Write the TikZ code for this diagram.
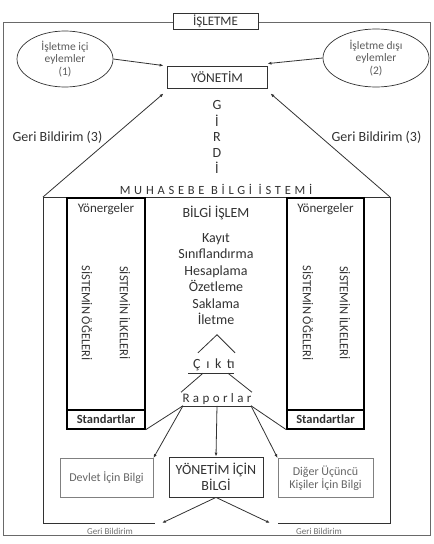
\documentclass[tikz,border=0pt]{standalone}
\usepackage{fontspec}
\setmainfont{Carlito}
\newfontfamily\spacedfont[LetterSpace=30]{Carlito}
\newfontfamily\widefont[LetterSpace=40]{Carlito}
\newfontfamily\midfont[LetterSpace=26]{Carlito}
\usetikzlibrary{arrows.meta,positioning,shapes.geometric,calc}
\definecolor{inkgray}{RGB}{50,50,50}
\definecolor{linegray}{RGB}{105,105,105}
\newcommand{\fsz}[1]{\fontsize{#1}{#1}\selectfont}

\begin{document}
\begin{tikzpicture}[x=1pt,y=-1pt,
        every node/.style={text=inkgray},
        frame/.style={draw=linegray,line width=0.8pt},
        box/.style={rectangle,draw=inkgray,line width=0.8pt,fill=white,inner sep=0pt,align=center},
        lightbox/.style={rectangle,draw=linegray!85,line width=0.8pt,inner sep=0pt,align=center,text=inkgray!75},
        bubble/.style={ellipse,draw=inkgray,line width=0.7pt,inner sep=0pt,align=center,
          font=\fontsize{11.5}{12.5}\selectfont,text=inkgray!80},
        column/.style={rectangle,draw=black,line width=1.4pt,inner sep=0pt},
        arrow/.style={-{Latex[length=4pt,width=3pt]},draw=inkgray,line width=0.8pt},
        link/.style={draw=inkgray,line width=0.8pt},
        vtext/.style={rotate=-90,font=\fontsize{12.5}{14}\selectfont},
        body/.style={font=\fontsize{14}{16.4}\selectfont}]
        \useasboundingbox (0,0) rectangle (434,544);
        % outer frame and title
        \draw[frame] (3,22) rectangle (430,535);
        \node[box,minimum width=85,minimum height=16,font=\fsz{13}] (isl) at (215.5,21) {İŞLETME};
        \node[bubble,minimum width=96,minimum height=56] (ici) at (65,59) {İşletme içi\\eylemler\\(1)};
        \node[bubble,minimum width=106,minimum height=58] (disi) at (376,58) {İşletme dışı\\eylemler\\(2)};
        \node[box,minimum width=100,minimum height=22,font=\fsz{13.5}] (yon) at (217,77) {YÖNETİM};
        \draw[arrow] (ici.east) -- ([xshift=-3pt]yon.north west);
        \draw[arrow] (disi.west) -- ([yshift=2pt]yon.north east);
        % girdi
        \foreach \ch/\yy in {G/105,İ/121,R/137,D/153,İ/168}
          \node[font=\fsz{14}] at (217,\yy) {\ch};
        \node[body] (gbl3) at (57.5,137) {Geri Bildirim (3)};
        \node[body] (gbr3) at (376.5,137) {Geri Bildirim (3)};
        % accounting system body
        \coordinate (btl) at (43,197);
        \coordinate (btr) at (390,197);
        \coordinate (bbl) at (43,523);
        \coordinate (bbr) at (390,523);
        \coordinate (fbl) at (162,523);
        \coordinate (fbr) at (270,523);
        \draw[arrow] (btl) -- ([xshift=-3pt,yshift=-5pt]yon.south west);
        \draw[arrow] (btr) -- ([xshift=3pt,yshift=-5pt]yon.south east);
        \node[font=\spacedfont\fontsize{12.5}{14}\selectfont] (mbs) at (216,189) {MUHASEBE BİLGİ İSTEMİ};
        \draw[link] (btl) -- (btr);
        \draw[link] (btl) -- (bbl) -- ([xshift=-7pt]fbl);
        \draw[link] (btr) -- (bbr) -- ([xshift=8pt]fbr);
        % side columns
        \node[column,minimum width=78,minimum height=231] (lcol) at (106,313.5) {};
        \node[column,minimum width=78,minimum height=19,font=\bfseries\fsz{12.5}] (lstd) at (106,419.5) {Standartlar};
        \node[column,minimum width=77,minimum height=231] (rcol) at (325.5,313.5) {};
        \node[column,minimum width=77,minimum height=19,font=\bfseries\fsz{12.5}] (rstd) at (325.5,419.5) {Standartlar};
        \node[font=\fsz{13}] (lyon) at (106,209) {Yönergeler};
        \node[font=\fsz{13}] (ryon) at (325.5,209) {Yönergeler};
        \node[vtext] (loge) at (87,313) {SİSTEMİN ÖĞELERİ};
        \node[vtext] (lilk) at (125,313) {SİSTEMİN İLKELERİ};
        \node[vtext] (roge) at (308,313) {SİSTEMİN ÖĞELERİ};
        \node[vtext] (rilk) at (345,313) {SİSTEMİN İLKELERİ};
        % information processing
        \node[body] (bis) at (216,213) {BİLGİ İŞLEM};
        \node[body,align=center] (ops) at (216,279) {Kayıt\\Sınıflandırma\\Hesaplama\\Özetleme\\Saklama\\İletme};
        \node[font=\widefont\fontsize{14}{15}\selectfont,inner sep=1pt] (cikti) at (214,365) {Çıktı};
        \node[font=\midfont\fontsize{13}{15}\selectfont,inner sep=1pt] (rap) at (217,399) {Raporlar};
        \draw[link] ([xshift=-26pt,yshift=-1pt]cikti.south) -- ([xshift=20pt,yshift=-1pt]cikti.south);
        \draw[link] ([xshift=-36pt,yshift=-1pt]rap.south) -- ([xshift=34pt,yshift=-1pt]rap.south);
        \draw[link] ($(cikti.north)+(-16,-5)$) -- ($(cikti.north)+(3,-23)$) -- ($(cikti.north)+(21,-5)$);
        \draw[link] ($(cikti.south)+(-11,1)$) -- ($(rap.north)+(-36,0)$);
        \draw[link] ($(cikti.south)+(14,1)$) -- ($(rap.north)+(35,0)$);
        % reports
        \node[lightbox,minimum width=93,minimum height=39,font=\fsz{12}] (dev) at (106.5,478) {Devlet İçin Bilgi};
        \node[box,minimum width=94,minimum height=40,font=\fontsize{14}{16}\selectfont] (ybil) at (216,477) {YÖNETİM İÇİN\\BİLGİ};
        \node[lightbox,minimum width=95,minimum height=39,font=\fontsize{12}{13.5}\selectfont] (dig) at (325.5,478) {Diğer Üçüncü\\Kişiler İçin Bilgi};
        \draw[link] ([xshift=-34pt]rap.south) -- (lstd.south east);
        \draw[link] ([xshift=34pt]rap.south) -- (rstd.south west);
        \draw[arrow] ([xshift=-34pt]rap.south) -- (dev.north east);
        \draw[arrow] (rap.south) -- (ybil.north);
        \draw[arrow] ([xshift=34pt]rap.south) -- (dig.north west);
        \draw[arrow] (ybil.south) -- (fbl);
        \draw[arrow] (ybil.south) -- (fbr);
        \node[font=\fsz{9},text=inkgray!70] (gb1) at (110,531) {Geri Bildirim};
        \node[font=\fsz{9},text=inkgray!70] (gb2) at (319,531) {Geri Bildirim};
      \end{tikzpicture}
\end{document}
